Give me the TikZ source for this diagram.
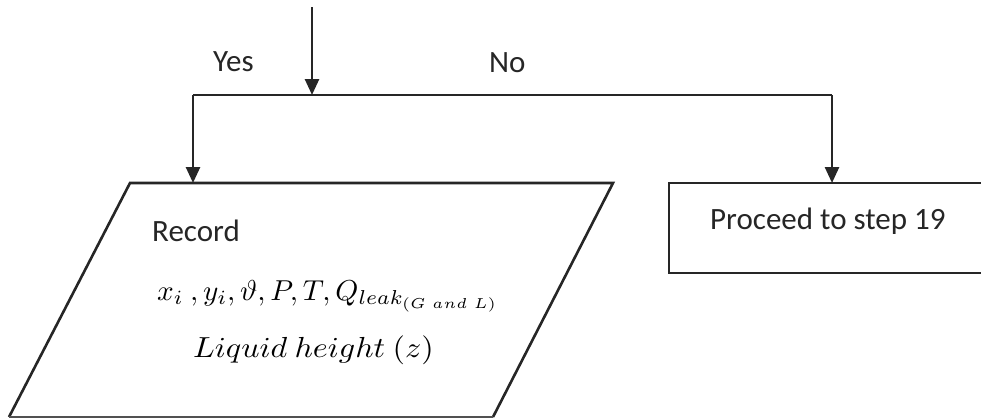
\documentclass[tikz,border=0pt]{standalone}
\usepackage{fontspec}
\setmainfont{Carlito}
\usetikzlibrary{arrows.meta}
\definecolor{ink}{HTML}{262626}
\begin{document}
\begin{tikzpicture}[x=1pt,y=-1pt,
  line/.style={draw=ink,line width=2.6pt},
  flow/.style={line,-{Triangle[width=14pt,length=16pt]}},
  lbl/.style={inner sep=0pt,anchor=base west,text=ink,font=\fontsize{31}{37}\selectfont},
  mth/.style={inner sep=0pt,anchor=base west,text=black,font=\fontsize{10}{12}\selectfont}]
\useasboundingbox (0,0) rectangle (981,418);
% coordinates
\coordinate (in) at (312,7);
\coordinate (split) at (312,95);
\coordinate (L) at (193,95);
\coordinate (R) at (832,95);
\coordinate (recTop) at (193,183);
\coordinate (procTop) at (832,183);
% parallelogram
\coordinate (p1) at (130,183);
\coordinate (p2) at (613,183);
\coordinate (p3) at (493,417);
\coordinate (p4) at (9,417);
\draw[line,line join=miter] (p4) -- (p1) -- (p2) -- (p3);
\draw[draw=ink!80,line width=1.5pt] (p3) -- (p4);
% rectangle
\draw[line] (1000,183) -- (669,183) -- (669,273) -- (1000,273);
% connectors
\draw[flow] (in) -- (split);
\draw[line] (L) -- (R);
\draw[flow] (L) -- (recTop);
\draw[flow] (R) -- (procTop);
% labels
\node[lbl] (yes) at (213,71) {Yes};
\node[lbl] (no) at (489,72) {No};
\node[lbl] (rec) at (152,241) {Record};
\node[mth] (vars) at (157,300) {\scalebox{2.92}[2.88]{$x_i\ , y_i, \vartheta, P, T, Q_{leak_{(G\ and\ L)}}$}};
\node[mth] (liq) at (193,357) {\scalebox{3.2}[2.9]{$Liquid\ height\ (z)$}};
\node[lbl] (proc) at (710,229) {Proceed to step 19};
\end{tikzpicture}
\end{document}
